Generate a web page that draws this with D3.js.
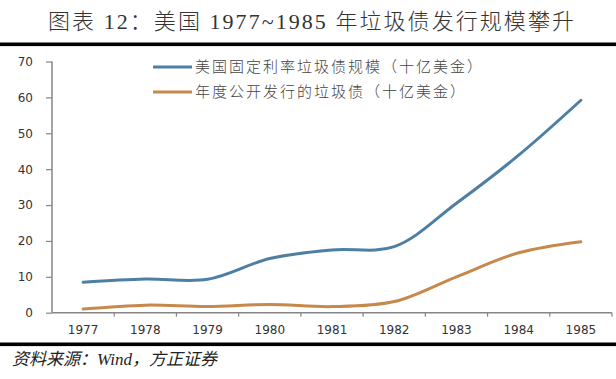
<!DOCTYPE html>
<html><head><meta charset="utf-8">
<script src="https://cdn.jsdelivr.net/npm/d3@7"></script>
<style>body{margin:0;background:#fff}svg{display:block}</style>
</head><body><svg id="c" width="616" height="379"></svg>
<script>
const years = ["1977","1978","1979","1980","1981","1982","1983","1984","1985"];
const fixedRateSize = [8.5, 9.4, 9.3, 15.1, 17.5, 18.4, 30.5, 43.9, 59.2];
const annualIssuance = [1.0, 2.1, 1.7, 2.3, 1.7, 3.1, 10.0, 16.7, 19.8];
const yTicks = [0,10,20,30,40,50,60,70];
const seriesNames = ["美国固定利率垃圾债规模（十亿美金）","年度公开发行的垃圾债（十亿美金）"];
const titleText = "图表 12：美国 1977~1985 年垃圾债发行规模攀升";
const sourceText = "资料来源：Wind，方正证券";

const svg = d3.select("#c");
const colors = ["#4d7fa4", "#c7884c"];

// title
svg.append("text").attr("x", 48).attr("y", 29)
  .attr("font-family","'Liberation Serif','Noto Sans CJK SC'").attr("font-size",22).attr("font-weight",300).attr("fill","#333")
  .attr("textLength", 526).attr("lengthAdjust","spacing")
  .text(titleText);
svg.append("rect").attr("x",0).attr("y",42.5).attr("width",616).attr("height",3.6).attr("fill","#000");
svg.append("rect").attr("x",0).attr("y",342.5).attr("width",616).attr("height",3.6).attr("fill","#000");
svg.append("text").attr("x",12).attr("y",365)
  .attr("font-family","'Liberation Serif','Noto Sans CJK SC'").attr("font-size",17).attr("font-style","italic").attr("fill","#222")
  .text(sourceText);

const x = d3.scaleBand().domain(years).range([52, 612]);
const y = d3.scaleLinear().domain([0,70]).range([312.7, 61.5]);

const yAxis = d3.axisLeft(y).tickValues(yTicks).tickSize(6).tickPadding(13);
const gy = svg.append("g").attr("transform","translate(52,0)").call(yAxis);
const xAxis = d3.axisBottom(x).tickSize(0).tickPadding(13);
const gx = svg.append("g").attr("transform","translate(0,312.7)").call(xAxis);
// x tick marks at band boundaries
gx.selectAll(".bt").data(years).enter().append("line")
  .attr("x1", d => x(d) + x.bandwidth()).attr("x2", d => x(d) + x.bandwidth())
  .attr("y1",0).attr("y2",4).attr("stroke","#868686").attr("stroke-width",1.2);
[gx, gy].forEach(g => {
  g.selectAll("path.domain").attr("stroke","#868686").attr("stroke-width",1.5);
  g.selectAll(".tick line").attr("stroke","#868686").attr("stroke-width",1.2);
  g.selectAll("text").attr("font-family","'DejaVu Sans',Verdana,sans-serif").attr("font-size",12).attr("fill","#333");
});
gy.select("path.domain").attr("d","M0,61.5V312.7");
gx.select("path.domain").attr("d","M52,0H612");

const line = d3.line().x((d,i) => x(years[i]) + x.bandwidth()/2).y(d => y(d)).curve(d3.curveCatmullRom.alpha(0.5));
[fixedRateSize, annualIssuance].forEach((s, k) => {
  svg.append("path").datum(s).attr("d", line).attr("fill","none")
    .attr("stroke", colors[k]).attr("stroke-width", 3).attr("stroke-linecap","round");
});

// legend
seriesNames.forEach((n, k) => {
  const ly = 67 + k*25;
  svg.append("line").attr("x1",153).attr("x2",192).attr("y1",ly).attr("y2",ly)
    .attr("stroke", colors[k]).attr("stroke-width",3);
  svg.append("text").attr("x",195).attr("y",ly+5).attr("font-family","'Noto Sans CJK SC'")
    .attr("font-size",15).attr("font-weight",300).attr("letter-spacing",2).attr("fill","#444").text(n);
});
</script></body></html>
